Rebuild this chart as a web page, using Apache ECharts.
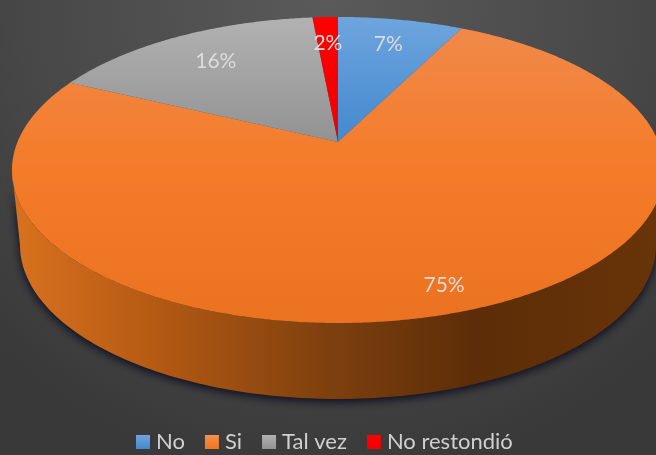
<!DOCTYPE html>
<html>
<head>
<meta charset="utf-8">
<style>
html, body { margin: 0; padding: 0; background: #444; }
#chart { width: 656px; height: 455px; }
</style>
<script src="https://cdn.jsdelivr.net/npm/echarts@6/dist/echarts.min.js"></script>
</head>
<body>
<div id="chart"></div>
<script>
var categories = ['No', 'Si', 'Tal vez', 'No restondió'];
var percents = [7.4, 74.7, 16.4, 1.5];

var topColors = [
	['#6ea5dd', '#4388cf'],
	['#f08a4c', '#f47b28', '#eb7220'],
	['#b2b2b2', '#929292'],
	['#ff0000', '#f00000']
];
var legendColors = [
	['#6ea5dd', '#4388cf'],
	['#f4924e', '#f0741f'],
	['#b2b2b2', '#929292'],
	['#ff0000', '#f00000']
];
var labelRadius = [0.775, 0.868, 0.74, 0.76];

// perspective of the pie top: apex is above the middle of the ellipse
var cx = 338, cy = 142, a = 320.5, b = 147.9, k = -0.183;
var frontFrom = 100.5, frontTo = 259.5;

function project(deg, r) {
	var t = deg * Math.PI / 180;
	var u = Math.sin(t) * r;
	var v = -Math.cos(t) * r;
	var w = 1 + k * v;
	return [cx + a * u / w, cy + b * v / w];
}

// bottom rim is the top rim moved down and a bit smaller
function lower(p) {
	return [cx + (p[0] - cx) * 318 / 326, 245 + (p[1] - 170) * 154 / 153];
}

function gradient(colors, y1, y2) {
	var stops = colors.map(function(c, i) {
		return { offset: i / (colors.length - 1), color: c };
	});
	return { type: 'linear', x: 0, y: y1, x2: 0, y2: y2, global: true, colorStops: stops };
}

var wallFill = {
	type: 'linear', x: 12, y: 0, x2: 656, y2: 0, global: true,
	colorStops: [
		{ offset: 0, color: '#d9721f' },
		{ offset: 0.2, color: '#b85c14' },
		{ offset: 0.5, color: '#7d3f0e' },
		{ offset: 0.72, color: '#5c2d08' },
		{ offset: 1, color: '#683408' }
	]
};

function makeRender(index) {
	return function(params, api) {
		var start = 0;
		for (var i = 0; i < index; i++) {
			start += percents[i];
		}
		var from = start * 3.6;
		var to = (start + api.value(0)) * 3.6;
		var children = [];

		// side wall, only the part of the slice that faces the front
		var wf = Math.max(from, frontFrom);
		var wt = Math.min(to, frontTo);
		if (wt > wf) {
			var rim = [];
			var low = [];
			for (var d = wf; d <= wt; d += 1) {
				rim.push(project(d, 1));
				low.unshift(lower(project(d, 1)));
			}
			children.push({
				type: 'polygon',
				shape: { points: rim.concat(low) },
				style: {
					fill: wallFill,
					shadowBlur: 10,
					shadowColor: 'rgba(8, 10, 30, 0.95)',
					shadowOffsetX: 0,
					shadowOffsetY: 3
				}
			});
		}

		// top face
		var pts = [project(0, 0)];
		for (var e = from; e < to; e += 0.5) {
			pts.push(project(e, 1));
		}
		pts.push(project(to, 1));
		children.push({
			type: 'polygon',
			shape: { points: pts },
			style: { fill: gradient(topColors[index], 17, index == 1 ? 323 : 142) }
		});

		var pos = project((from + to) / 2, labelRadius[index]);
		children.push({
			type: 'text',
			x: pos[0],
			y: pos[1],
			z2: 10,
			style: {
				text: Math.round(api.value(0)) + '%',
				fill: '#dcdcdc',
				font: '21px Lato',
				align: 'center',
				verticalAlign: 'middle'
			}
		});
		return { type: 'group', children: children };
	};
}

var myChart = echarts.init(document.getElementById('chart'));

var seriesList = categories.map(function(name, i) {
	return {
		name: name,
		type: 'custom',
		coordinateSystem: 'none',
		renderItem: makeRender(i),
		silent: true,
		animation: false,
		itemStyle: {
			color: {
				type: 'linear', x: 0, y: 0, x2: 0, y2: 1,
				colorStops: [
					{ offset: 0, color: legendColors[i][0] },
					{ offset: 1, color: legendColors[i][1] }
				]
			}
		},
		data: [[percents[i]]]
	};
});

myChart.setOption({
	animation: false,
	backgroundColor: {
		type: 'radial', x: 0.5, y: 0, r: 1.05,
		colorStops: [
			{ offset: 0, color: '#5a5a5a' },
			{ offset: 0.65, color: '#474747' },
			{ offset: 1, color: '#393939' }
		]
	},
	legend: {
		data: categories,
		left: 136,
		top: 431,
		padding: 0,
		icon: 'rect',
		itemWidth: 14,
		itemHeight: 14,
		itemGap: 20,
		selectedMode: false,
		textStyle: { color: '#d0d0d0', fontFamily: 'Lato', fontSize: 22, padding: [0, 0, 0, 1] }
	},
	series: seriesList
});
</script>
</body>
</html>
